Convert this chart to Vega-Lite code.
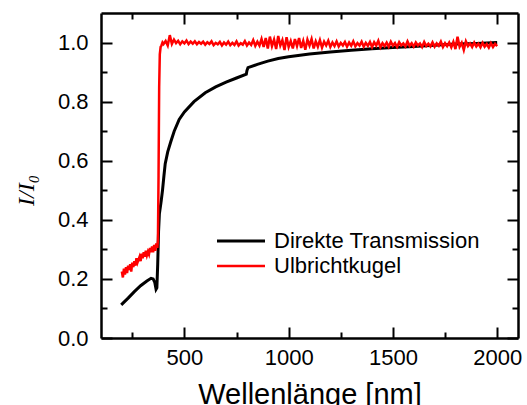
{
  "$schema": "https://vega.github.io/schema/vega-lite/v6.json",
  "width": 417,
  "height": 325,
  "autosize": "none",
  "padding": {"left": 101, "top": 13, "right": 9, "bottom": 67},
  "background": "white",
  "config": {"view": {"stroke": null}, "font": "Liberation Sans"},
  "data": {"values": [
    {"s":"Direkte Transmission","w":197,"v":0.112},{"s":"Direkte Transmission","w":230,"v":0.135},{"s":"Direkte Transmission","w":260,"v":0.157},{"s":"Direkte Transmission","w":290,"v":0.177},{"s":"Direkte Transmission","w":320,"v":0.193},{"s":"Direkte Transmission","w":340,"v":0.202},{"s":"Direkte Transmission","w":350,"v":0.2},{"s":"Direkte Transmission","w":358,"v":0.188},{"s":"Direkte Transmission","w":364,"v":0.165},{"s":"Direkte Transmission","w":368,"v":0.17},{"s":"Direkte Transmission","w":372,"v":0.25},{"s":"Direkte Transmission","w":376,"v":0.36},{"s":"Direkte Transmission","w":380,"v":0.42},{"s":"Direkte Transmission","w":388,"v":0.46},{"s":"Direkte Transmission","w":395,"v":0.5},{"s":"Direkte Transmission","w":402,"v":0.55},{"s":"Direkte Transmission","w":408,"v":0.59},{"s":"Direkte Transmission","w":420,"v":0.63},{"s":"Direkte Transmission","w":435,"v":0.665},{"s":"Direkte Transmission","w":451,"v":0.7},{"s":"Direkte Transmission","w":475,"v":0.74},{"s":"Direkte Transmission","w":500,"v":0.765},{"s":"Direkte Transmission","w":546,"v":0.8},{"s":"Direkte Transmission","w":600,"v":0.83},{"s":"Direkte Transmission","w":650,"v":0.85},{"s":"Direkte Transmission","w":700,"v":0.866},{"s":"Direkte Transmission","w":750,"v":0.88},{"s":"Direkte Transmission","w":797,"v":0.893},{"s":"Direkte Transmission","w":800,"v":0.905},{"s":"Direkte Transmission","w":805,"v":0.915},{"s":"Direkte Transmission","w":850,"v":0.926},{"s":"Direkte Transmission","w":900,"v":0.937},{"s":"Direkte Transmission","w":950,"v":0.946},{"s":"Direkte Transmission","w":1000,"v":0.952},{"s":"Direkte Transmission","w":1100,"v":0.961},{"s":"Direkte Transmission","w":1200,"v":0.968},{"s":"Direkte Transmission","w":1300,"v":0.974},{"s":"Direkte Transmission","w":1400,"v":0.979},{"s":"Direkte Transmission","w":1500,"v":0.983},{"s":"Direkte Transmission","w":1600,"v":0.987},{"s":"Direkte Transmission","w":1700,"v":0.991},{"s":"Direkte Transmission","w":1800,"v":0.995},{"s":"Direkte Transmission","w":1900,"v":0.997},{"s":"Direkte Transmission","w":2000,"v":1.0},
    {"s":"Ulbrichtkugel","w":200,"v":0.225},{"s":"Ulbrichtkugel","w":205,"v":0.205},{"s":"Ulbrichtkugel","w":210,"v":0.235},{"s":"Ulbrichtkugel","w":215,"v":0.215},{"s":"Ulbrichtkugel","w":220,"v":0.24},{"s":"Ulbrichtkugel","w":225,"v":0.22},{"s":"Ulbrichtkugel","w":230,"v":0.245},{"s":"Ulbrichtkugel","w":235,"v":0.23},{"s":"Ulbrichtkugel","w":240,"v":0.25},{"s":"Ulbrichtkugel","w":245,"v":0.225},{"s":"Ulbrichtkugel","w":250,"v":0.255},{"s":"Ulbrichtkugel","w":255,"v":0.24},{"s":"Ulbrichtkugel","w":260,"v":0.26},{"s":"Ulbrichtkugel","w":265,"v":0.245},{"s":"Ulbrichtkugel","w":270,"v":0.27},{"s":"Ulbrichtkugel","w":275,"v":0.255},{"s":"Ulbrichtkugel","w":280,"v":0.265},{"s":"Ulbrichtkugel","w":285,"v":0.275},{"s":"Ulbrichtkugel","w":290,"v":0.26},{"s":"Ulbrichtkugel","w":295,"v":0.285},{"s":"Ulbrichtkugel","w":300,"v":0.27},{"s":"Ulbrichtkugel","w":305,"v":0.29},{"s":"Ulbrichtkugel","w":310,"v":0.275},{"s":"Ulbrichtkugel","w":315,"v":0.295},{"s":"Ulbrichtkugel","w":320,"v":0.28},{"s":"Ulbrichtkugel","w":325,"v":0.292},{"s":"Ulbrichtkugel","w":330,"v":0.283},{"s":"Ulbrichtkugel","w":335,"v":0.305},{"s":"Ulbrichtkugel","w":340,"v":0.29},{"s":"Ulbrichtkugel","w":345,"v":0.31},{"s":"Ulbrichtkugel","w":350,"v":0.29},{"s":"Ulbrichtkugel","w":355,"v":0.315},{"s":"Ulbrichtkugel","w":360,"v":0.295},{"s":"Ulbrichtkugel","w":365,"v":0.32},{"s":"Ulbrichtkugel","w":370,"v":0.305},{"s":"Ulbrichtkugel","w":373,"v":0.33},{"s":"Ulbrichtkugel","w":376,"v":0.55},{"s":"Ulbrichtkugel","w":379,"v":0.85},{"s":"Ulbrichtkugel","w":382,"v":0.96},{"s":"Ulbrichtkugel","w":386,"v":0.985},{"s":"Ulbrichtkugel","w":390,"v":0.99},{"s":"Ulbrichtkugel","w":395,"v":1.0},
    {"s":"Ulbrichtkugel","w":400,"v":0.995},{"s":"Ulbrichtkugel","w":410,"v":1.005},{"s":"Ulbrichtkugel","w":420,"v":0.99},{"s":"Ulbrichtkugel","w":430,"v":1.025},{"s":"Ulbrichtkugel","w":440,"v":0.995},{"s":"Ulbrichtkugel","w":450,"v":1.01},{"s":"Ulbrichtkugel","w":460,"v":0.998},{"s":"Ulbrichtkugel","w":470,"v":1.006},{"s":"Ulbrichtkugel","w":480,"v":0.994},{"s":"Ulbrichtkugel","w":490,"v":1.004},
    {"s":"Ulbrichtkugel","w":500,"v":0.997},{"s":"Ulbrichtkugel","w":510,"v":1.007},{"s":"Ulbrichtkugel","w":520,"v":0.995},{"s":"Ulbrichtkugel","w":530,"v":1.003},{"s":"Ulbrichtkugel","w":540,"v":0.996},{"s":"Ulbrichtkugel","w":550,"v":1.004},{"s":"Ulbrichtkugel","w":560,"v":0.994},{"s":"Ulbrichtkugel","w":570,"v":1.002},{"s":"Ulbrichtkugel","w":580,"v":0.996},{"s":"Ulbrichtkugel","w":590,"v":1.003},
    {"s":"Ulbrichtkugel","w":600,"v":0.993},{"s":"Ulbrichtkugel","w":610,"v":1.001},{"s":"Ulbrichtkugel","w":620,"v":0.995},{"s":"Ulbrichtkugel","w":630,"v":1.004},{"s":"Ulbrichtkugel","w":640,"v":0.991},{"s":"Ulbrichtkugel","w":650,"v":0.999},{"s":"Ulbrichtkugel","w":660,"v":0.994},{"s":"Ulbrichtkugel","w":670,"v":1.002},{"s":"Ulbrichtkugel","w":680,"v":0.99},{"s":"Ulbrichtkugel","w":690,"v":1.0},
    {"s":"Ulbrichtkugel","w":700,"v":0.993},{"s":"Ulbrichtkugel","w":710,"v":1.003},{"s":"Ulbrichtkugel","w":720,"v":0.991},{"s":"Ulbrichtkugel","w":730,"v":0.999},{"s":"Ulbrichtkugel","w":740,"v":0.992},{"s":"Ulbrichtkugel","w":750,"v":1.004},{"s":"Ulbrichtkugel","w":760,"v":0.99},{"s":"Ulbrichtkugel","w":770,"v":0.998},{"s":"Ulbrichtkugel","w":780,"v":0.993},{"s":"Ulbrichtkugel","w":790,"v":1.005},
    {"s":"Ulbrichtkugel","w":800,"v":0.99},{"s":"Ulbrichtkugel","w":810,"v":1.0},{"s":"Ulbrichtkugel","w":820,"v":0.992},{"s":"Ulbrichtkugel","w":830,"v":1.008},{"s":"Ulbrichtkugel","w":840,"v":0.989},{"s":"Ulbrichtkugel","w":850,"v":1.003},{"s":"Ulbrichtkugel","w":860,"v":0.99},{"s":"Ulbrichtkugel","w":870,"v":1.012},{"s":"Ulbrichtkugel","w":880,"v":0.985},{"s":"Ulbrichtkugel","w":890,"v":1.015},
    {"s":"Ulbrichtkugel","w":900,"v":0.98},{"s":"Ulbrichtkugel","w":910,"v":1.02},{"s":"Ulbrichtkugel","w":920,"v":0.988},{"s":"Ulbrichtkugel","w":930,"v":1.01},{"s":"Ulbrichtkugel","w":940,"v":0.978},{"s":"Ulbrichtkugel","w":950,"v":1.022},{"s":"Ulbrichtkugel","w":960,"v":0.99},{"s":"Ulbrichtkugel","w":970,"v":1.008},{"s":"Ulbrichtkugel","w":980,"v":0.975},{"s":"Ulbrichtkugel","w":990,"v":1.018},
    {"s":"Ulbrichtkugel","w":1000,"v":0.985},{"s":"Ulbrichtkugel","w":1010,"v":1.005},{"s":"Ulbrichtkugel","w":1020,"v":0.98},{"s":"Ulbrichtkugel","w":1030,"v":1.012},{"s":"Ulbrichtkugel","w":1040,"v":0.988},{"s":"Ulbrichtkugel","w":1050,"v":1.015},{"s":"Ulbrichtkugel","w":1060,"v":0.982},{"s":"Ulbrichtkugel","w":1070,"v":1.006},{"s":"Ulbrichtkugel","w":1080,"v":0.976},{"s":"Ulbrichtkugel","w":1090,"v":1.01},
    {"s":"Ulbrichtkugel","w":1100,"v":0.99},{"s":"Ulbrichtkugel","w":1110,"v":1.012},{"s":"Ulbrichtkugel","w":1120,"v":0.98},{"s":"Ulbrichtkugel","w":1130,"v":1.004},{"s":"Ulbrichtkugel","w":1140,"v":0.986},{"s":"Ulbrichtkugel","w":1150,"v":1.008},{"s":"Ulbrichtkugel","w":1160,"v":0.983},{"s":"Ulbrichtkugel","w":1170,"v":1.003},{"s":"Ulbrichtkugel","w":1180,"v":0.99},{"s":"Ulbrichtkugel","w":1190,"v":1.006},
    {"s":"Ulbrichtkugel","w":1200,"v":0.985},{"s":"Ulbrichtkugel","w":1210,"v":1.0},{"s":"Ulbrichtkugel","w":1220,"v":0.988},{"s":"Ulbrichtkugel","w":1230,"v":1.004},{"s":"Ulbrichtkugel","w":1240,"v":0.987},{"s":"Ulbrichtkugel","w":1250,"v":0.999},{"s":"Ulbrichtkugel","w":1260,"v":0.99},{"s":"Ulbrichtkugel","w":1270,"v":1.002},{"s":"Ulbrichtkugel","w":1280,"v":0.986},{"s":"Ulbrichtkugel","w":1290,"v":1.0},
    {"s":"Ulbrichtkugel","w":1300,"v":0.989},{"s":"Ulbrichtkugel","w":1310,"v":1.004},{"s":"Ulbrichtkugel","w":1320,"v":0.987},{"s":"Ulbrichtkugel","w":1330,"v":0.998},{"s":"Ulbrichtkugel","w":1340,"v":0.99},{"s":"Ulbrichtkugel","w":1350,"v":1.003},{"s":"Ulbrichtkugel","w":1360,"v":0.986},{"s":"Ulbrichtkugel","w":1370,"v":0.999},{"s":"Ulbrichtkugel","w":1380,"v":0.989},{"s":"Ulbrichtkugel","w":1390,"v":1.002},
    {"s":"Ulbrichtkugel","w":1400,"v":0.985},{"s":"Ulbrichtkugel","w":1410,"v":1.001},{"s":"Ulbrichtkugel","w":1420,"v":0.99},{"s":"Ulbrichtkugel","w":1430,"v":1.006},{"s":"Ulbrichtkugel","w":1440,"v":0.984},{"s":"Ulbrichtkugel","w":1450,"v":0.998},{"s":"Ulbrichtkugel","w":1460,"v":0.988},{"s":"Ulbrichtkugel","w":1470,"v":1.0},{"s":"Ulbrichtkugel","w":1480,"v":0.986},{"s":"Ulbrichtkugel","w":1490,"v":1.003},
    {"s":"Ulbrichtkugel","w":1500,"v":0.989},{"s":"Ulbrichtkugel","w":1510,"v":0.998},{"s":"Ulbrichtkugel","w":1520,"v":0.985},{"s":"Ulbrichtkugel","w":1530,"v":1.001},{"s":"Ulbrichtkugel","w":1540,"v":0.99},{"s":"Ulbrichtkugel","w":1550,"v":0.997},{"s":"Ulbrichtkugel","w":1560,"v":0.987},{"s":"Ulbrichtkugel","w":1570,"v":1.004},{"s":"Ulbrichtkugel","w":1580,"v":0.989},{"s":"Ulbrichtkugel","w":1590,"v":0.998},
    {"s":"Ulbrichtkugel","w":1600,"v":0.986},{"s":"Ulbrichtkugel","w":1610,"v":1.0},{"s":"Ulbrichtkugel","w":1620,"v":0.99},{"s":"Ulbrichtkugel","w":1630,"v":0.997},{"s":"Ulbrichtkugel","w":1640,"v":0.985},{"s":"Ulbrichtkugel","w":1650,"v":1.002},{"s":"Ulbrichtkugel","w":1660,"v":0.988},{"s":"Ulbrichtkugel","w":1670,"v":0.996},{"s":"Ulbrichtkugel","w":1680,"v":0.987},{"s":"Ulbrichtkugel","w":1690,"v":1.001},
    {"s":"Ulbrichtkugel","w":1700,"v":0.986},{"s":"Ulbrichtkugel","w":1710,"v":0.997},{"s":"Ulbrichtkugel","w":1720,"v":0.989},{"s":"Ulbrichtkugel","w":1730,"v":1.003},{"s":"Ulbrichtkugel","w":1740,"v":0.985},{"s":"Ulbrichtkugel","w":1750,"v":0.998},{"s":"Ulbrichtkugel","w":1760,"v":0.988},{"s":"Ulbrichtkugel","w":1770,"v":1.0},{"s":"Ulbrichtkugel","w":1780,"v":0.984},{"s":"Ulbrichtkugel","w":1790,"v":1.002},
    {"s":"Ulbrichtkugel","w":1800,"v":0.978},{"s":"Ulbrichtkugel","w":1810,"v":1.02},{"s":"Ulbrichtkugel","w":1820,"v":0.986},{"s":"Ulbrichtkugel","w":1830,"v":0.999},{"s":"Ulbrichtkugel","w":1840,"v":0.975},{"s":"Ulbrichtkugel","w":1850,"v":1.004},{"s":"Ulbrichtkugel","w":1860,"v":0.988},{"s":"Ulbrichtkugel","w":1870,"v":0.997},{"s":"Ulbrichtkugel","w":1880,"v":0.985},{"s":"Ulbrichtkugel","w":1890,"v":1.0},
    {"s":"Ulbrichtkugel","w":1900,"v":0.987},{"s":"Ulbrichtkugel","w":1910,"v":0.996},{"s":"Ulbrichtkugel","w":1920,"v":0.984},{"s":"Ulbrichtkugel","w":1930,"v":0.999},{"s":"Ulbrichtkugel","w":1940,"v":0.986},{"s":"Ulbrichtkugel","w":1950,"v":0.995},{"s":"Ulbrichtkugel","w":1960,"v":0.983},{"s":"Ulbrichtkugel","w":1970,"v":0.998},{"s":"Ulbrichtkugel","w":1980,"v":0.985},{"s":"Ulbrichtkugel","w":1990,"v":0.996},{"s":"Ulbrichtkugel","w":2000,"v":0.988}
  ]},
  "layer": [
    {
      "mark": {"type": "line", "interpolate": "linear"},
      "encoding": {
        "x": {"field": "w", "type": "quantitative",
          "scale": {"domain": [100, 2100], "nice": false, "zero": false},
          "axis": {"orient": "bottom", "values": [250,500,750,1000,1250,1500,1750,2000],
            "labelExpr": "datum.value % 500 === 0 ? format(datum.value, 'd') : ''",
            "grid": false, "domainColor": "black", "domainWidth": 2.5, "ticks": true, "tickColor": "black", "tickWidth": 2, "tickSize": 11,
            "encoding": {"ticks": {"y": {"value": 0}, "y2": {"condition": {"test": "datum.value % 500 === 0", "value": -11}, "value": -6}}},
            "labelFont": "Liberation Sans", "labelFontSize": 22, "labelColor": "black", "labelPadding": -2, "labelFlush": false,
            "title": "Wellenlänge [nm]", "titleFont": "Liberation Sans", "titleFontSize": 29, "titleFontWeight": "normal", "titleColor": "black",
            "titleX": 208.5, "titleY": 65, "titleBaseline": "alphabetic", "titleAlign": "center"}},
        "y": {"field": "v", "type": "quantitative",
          "scale": {"domain": [0, 1.1], "nice": false},
          "axis": {"orient": "left", "values": [0,0.1,0.2,0.3,0.4,0.5,0.6,0.7,0.8,0.9,1.0],
            "labelExpr": "round(datum.value*10) % 2 === 0 ? format(datum.value, '.1f') : ''",
            "grid": false, "domainColor": "black", "domainWidth": 2.5, "ticks": true, "tickColor": "black", "tickWidth": 2, "tickSize": 11,
            "encoding": {"ticks": {"x": {"value": 0}, "x2": {"condition": {"test": "round(datum.value*10) % 2 === 0", "value": 11}, "value": 6}}},
            "labelFont": "Liberation Sans", "labelFontSize": 22, "labelColor": "black", "labelPadding": 2, "labelFlush": false,
            "title": "I/I₀", "titleFont": "Liberation Serif", "titleFontStyle": "italic", "titleFontSize": 24, "titleFontWeight": "normal", "titleColor": "black",
            "titleAngle": 270, "titleX": -68, "titleY": 177, "titleBaseline": "alphabetic", "titleAlign": "center"}},
        "color": {"field": "s", "type": "nominal",
          "scale": {"domain": ["Direkte Transmission", "Ulbrichtkugel"], "range": ["#000000", "#ff0000"]},
          "legend": {"title": null, "orient": "none", "legendX": 129, "legendY": 217,
            "symbolType": "M-4,0H4", "symbolSize": 144, "symbolStrokeWidth": 3,
            "labelFont": "Liberation Sans", "labelFontSize": 22, "labelColor": "black", "labelOffset": 22, "labelLimit": 400,
            "rowPadding": 3, "padding": 0}},
        "strokeWidth": {"field": "s", "type": "nominal",
          "scale": {"domain": ["Direkte Transmission", "Ulbrichtkugel"], "range": [3, 2.5]}, "legend": null}
      }
    },
    {
      "mark": {"type": "line", "opacity": 0},
      "encoding": {
        "x": {"field": "w", "type": "quantitative",
          "axis": {"orient": "top", "values": [250,500,750,1000,1250,1500,1750,2000], "labels": false, "title": null,
            "grid": false, "domainColor": "black", "domainWidth": 2.5, "ticks": true, "tickColor": "black", "tickWidth": 2, "tickSize": 11,
            "encoding": {"ticks": {"y": {"value": 0}, "y2": {"condition": {"test": "datum.value % 500 === 0", "value": 11}, "value": 6}}}}},
        "y": {"field": "v", "type": "quantitative",
          "axis": {"orient": "right", "values": [0,0.1,0.2,0.3,0.4,0.5,0.6,0.7,0.8,0.9,1.0], "labels": false, "title": null,
            "grid": false, "domainColor": "black", "domainWidth": 2.5, "ticks": true, "tickColor": "black", "tickWidth": 2, "tickSize": 11,
            "encoding": {"ticks": {"x": {"value": 0}, "x2": {"condition": {"test": "round(datum.value*10) % 2 === 0", "value": -11}, "value": -6}}}}}
      }
    }
  ]
}
